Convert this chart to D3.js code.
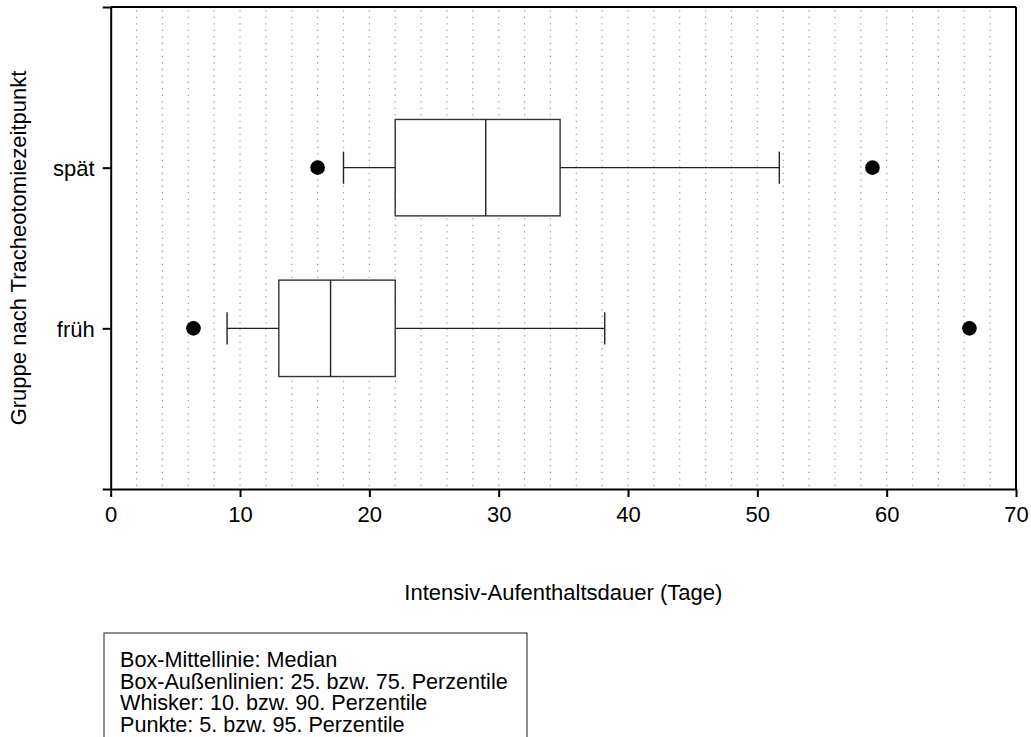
<!DOCTYPE html>
<html>
<head>
<meta charset="utf-8">
<script src="https://cdn.jsdelivr.net/npm/d3@7"></script>
<style>
  body { margin: 0; background: #fff; }
  svg { display: block; font-family: "Liberation Sans", Arial, sans-serif; }
  .axis text { font-size: 22px; fill: #000; }
  .axis path, .axis line { stroke: #000; stroke-width: 2; }
</style>
</head>
<body>
<div id="chart"></div>
<script>
// Gruppen und Kennwerte (Tage)
var groups = ["früh", "spät"];
var groupPos = [1, 2];
var p10 = [9, 18];
var p25 = [13, 22];
var median = [17, 29];
var p75 = [22, 34.75];
var p90 = [38.2, 51.7];
var p5 = [6.4, 16];
var p95 = [66.4, 58.9];
var xTicks = [0, 10, 20, 30, 40, 50, 60, 70];
var gridTicks = d3.range(2, 70, 2);
var legendLines = [
  "Box-Mittellinie: Median",
  "Box-Außenlinien: 25. bzw. 75. Perzentile",
  "Whisker: 10. bzw. 90. Perzentile",
  "Punkte: 5. bzw. 95. Perzentile"
];

var width = 1031, height = 737;
var margin = {top: 7, right: 15, bottom: 248, left: 110.7};
var plotW = width - margin.left - margin.right;
var plotH = height - margin.top - margin.bottom;

var svg = d3.select("#chart").append("svg")
    .attr("width", width)
    .attr("height", height);

var g = svg.append("g")
    .attr("transform", "translate(" + margin.left + "," + margin.top + ")");

var x = d3.scaleLinear().domain([0, 70]).range([0, plotW]);
var y = d3.scaleLinear().domain([0, 3]).range([plotH, 0]);

// gepunktete Gitterlinien
g.append("g").selectAll("line")
  .data(gridTicks)
  .enter().append("line")
    .attr("x1", function(d) { return x(d); })
    .attr("x2", function(d) { return x(d); })
    .attr("y1", plotH - 3)
    .attr("y2", 3)
    .attr("stroke", "#9494c0")
    .attr("stroke-width", 1.2)
    .attr("stroke-dasharray", "1.2,5.3");

// Rahmen oben / rechts
g.append("line").attr("x1", 0).attr("x2", plotW).attr("y1", 0).attr("y2", 0)
  .attr("stroke", "#000").attr("stroke-width", 2);
g.append("line").attr("x1", plotW).attr("x2", plotW).attr("y1", 0).attr("y2", plotH)
  .attr("stroke", "#000").attr("stroke-width", 2);

// Achsen
g.append("g")
  .attr("class", "axis")
  .attr("transform", "translate(0," + plotH + ")")
  .call(d3.axisBottom(x).tickValues(xTicks).tickSize(8).tickSizeOuter(0).tickPadding(5))
  .selectAll("text").attr("dy", "0.9em");

var yAxis = g.append("g")
  .attr("class", "axis")
  .call(d3.axisLeft(y).tickValues([0, 1, 2, 3]).tickSize(8).tickSizeOuter(0).tickPadding(8)
    .tickFormat(function(d) { return d === 1 ? groups[0] : d === 2 ? groups[1] : ""; }));
yAxis.selectAll("text").attr("dy", "0.35em");

var boxHalf = 0.3, capHalf = 0.1;
var idx = d3.range(groups.length);

var box = g.append("g").selectAll("g")
  .data(idx)
  .enter().append("g");

// Whisker
box.append("line")
  .attr("x1", function(i) { return x(p10[i]); })
  .attr("x2", function(i) { return x(p25[i]); })
  .attr("y1", function(i) { return y(groupPos[i]); })
  .attr("y2", function(i) { return y(groupPos[i]); })
  .attr("stroke", "#222").attr("stroke-width", 1.4);
box.append("line")
  .attr("x1", function(i) { return x(p75[i]); })
  .attr("x2", function(i) { return x(p90[i]); })
  .attr("y1", function(i) { return y(groupPos[i]); })
  .attr("y2", function(i) { return y(groupPos[i]); })
  .attr("stroke", "#222").attr("stroke-width", 1.4);
[p10, p90].forEach(function(arr) {
  box.append("line")
    .attr("x1", function(i) { return x(arr[i]); })
    .attr("x2", function(i) { return x(arr[i]); })
    .attr("y1", function(i) { return y(groupPos[i] + capHalf); })
    .attr("y2", function(i) { return y(groupPos[i] - capHalf); })
    .attr("stroke", "#222").attr("stroke-width", 1.4);
});

// Box
box.append("rect")
  .attr("x", function(i) { return x(p25[i]); })
  .attr("width", function(i) { return x(p75[i]) - x(p25[i]); })
  .attr("y", function(i) { return y(groupPos[i] + boxHalf); })
  .attr("height", function(i) { return y(groupPos[i] - boxHalf) - y(groupPos[i] + boxHalf); })
  .attr("fill", "#fff")
  .attr("stroke", "#333").attr("stroke-width", 1.4);

box.append("line")
  .attr("x1", function(i) { return x(median[i]); })
  .attr("x2", function(i) { return x(median[i]); })
  .attr("y1", function(i) { return y(groupPos[i] + boxHalf); })
  .attr("y2", function(i) { return y(groupPos[i] - boxHalf); })
  .attr("stroke", "#222").attr("stroke-width", 1.4);

// Punkte
[p5, p95].forEach(function(arr) {
  box.append("circle")
    .attr("cx", function(i) { return x(arr[i]); })
    .attr("cy", function(i) { return y(groupPos[i]); })
    .attr("r", 7.3)
    .attr("fill", "#000");
});

// Achsentitel
svg.append("text")
  .attr("x", margin.left + plotW / 2)
  .attr("y", 600)
  .attr("text-anchor", "middle")
  .attr("font-size", 22)
  .text("Intensiv-Aufenthaltsdauer (Tage)");

svg.append("text")
  .attr("transform", "translate(26," + (margin.top + plotH / 2) + ") rotate(-90)")
  .attr("text-anchor", "middle")
  .attr("font-size", 22)
  .text("Gruppe nach Tracheotomiezeitpunkt");

// Legende
svg.append("rect")
  .attr("x", 104).attr("y", 633)
  .attr("width", 423).attr("height", 120)
  .attr("fill", "none")
  .attr("stroke", "#444").attr("stroke-width", 1.2);

svg.append("g").selectAll("text")
  .data(legendLines)
  .enter().append("text")
    .attr("x", 120)
    .attr("y", function(d, i) { return 667 + i * 21.6; })
    .attr("font-size", 21.6)
    .text(function(d) { return d; });
</script>
</body>
</html>
